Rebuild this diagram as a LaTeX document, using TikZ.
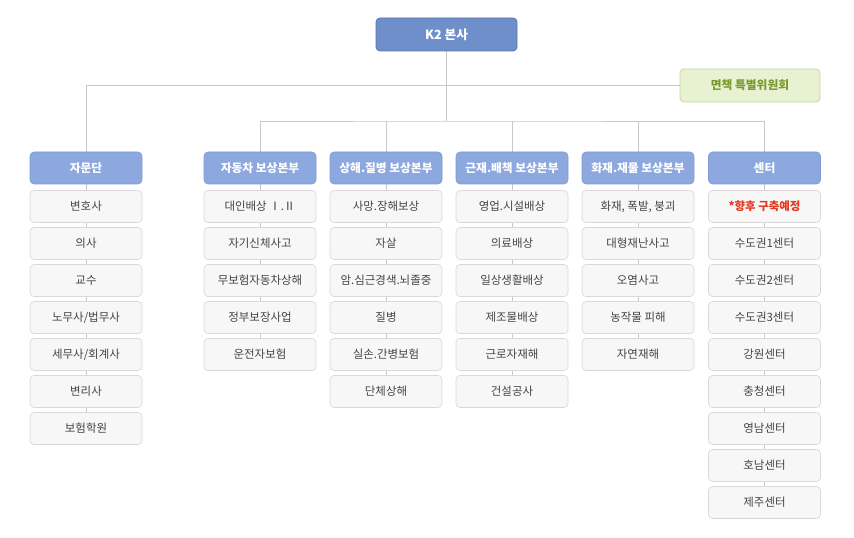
\documentclass[tikz,border=0pt]{standalone}
\usepackage{fontspec}
\setmainfont{Noto Sans CJK KR}
\usetikzlibrary{backgrounds}
\definecolor{topblue}{HTML}{6E8FC9}
\definecolor{topborder}{HTML}{5676B5}
\definecolor{headblue}{HTML}{8CA8DF}
\definecolor{headborder}{HTML}{7D9AD4}
\definecolor{greenfill}{HTML}{E9F1D3}
\definecolor{greenborder}{HTML}{C5D69A}
\definecolor{greentext}{HTML}{7A9A2E}
\definecolor{childfill}{HTML}{F7F7F7}
\definecolor{childborder}{HTML}{D9D9D9}
\definecolor{childtext}{HTML}{444444}
\definecolor{linegray}{HTML}{C8C8C8}
\definecolor{redtext}{HTML}{E2391E}
\tikzset{
  topbox/.style={draw=topborder, fill=topblue, rounded corners=3pt, line width=0.6pt,
    minimum width=105.75pt, minimum height=24.75pt, inner sep=0pt,
    text=white, font=\fontsize{9.5pt}{11pt}\selectfont\bfseries},
  greenbox/.style={draw=greenborder, fill=greenfill, rounded corners=3pt, line width=0.6pt,
    minimum width=105pt, minimum height=24.75pt, inner sep=0pt,
    text=greentext, font=\fontsize{8.8pt}{11pt}\selectfont\bfseries},
  headbox/.style={draw=headborder, fill=headblue, rounded corners=3pt, line width=0.4pt,
    minimum width=84pt, minimum height=24pt, inner sep=0pt,
    text=white, font=\fontsize{8.8pt}{11pt}\selectfont\bfseries},
  childbox/.style={draw=childborder, fill=childfill, rounded corners=3pt, line width=0.5pt,
    minimum width=84pt, minimum height=24pt, inner sep=0pt,
    text=childtext, font=\fontsize{8.6pt}{11pt}\selectfont},
  conn/.style={draw=linegray, line width=0.6pt},
}
\begin{document}
\begin{tikzpicture}[x=0.75pt, y=-0.75pt]
\useasboundingbox (0,0) rectangle (854,538);

% top
\node[topbox] (k2) at (446.5,34.5) {K2 본사};
\node[greenbox] (mj) at (750,85.5) {면책 특별위원회};

% headers
\node[headbox] (h1) at (86,168) {자문단};
\node[headbox] (h2) at (260,168) {자동차 보상본부};
\node[headbox] (h3) at (386,168) {상해.질병 보상본부};
\node[headbox] (h4) at (512,168) {근재.배책 보상본부};
\node[headbox] (h5) at (638,168) {화재.재물 보상본부};
\node[headbox] (h6) at (764.5,168) {센터};

% children
\foreach \t [count=\i] in {변호사,의사,교수,노무사/법무사,세무사/회계사,변리사,보험학원}
  \node[childbox] (a\i) at (86,{206.5+37*(\i-1)}) {\t};
\foreach \t [count=\i] in {대인배상 Ⅰ.Ⅱ,자기신체사고,무보험자동차상해,정부보장사업,운전자보험}
  \node[childbox] (b\i) at (260,{206.5+37*(\i-1)}) {\t};
\foreach \t [count=\i] in {사망.장해보상,자살,암.심근경색.뇌졸중,질병,실손.간병보험,단체상해}
  \node[childbox] (c\i) at (386,{206.5+37*(\i-1)}) {\t};
\foreach \t [count=\i] in {영업.시설배상,의료배상,일상생활배상,제조물배상,근로자재해,건설공사}
  \node[childbox] (d\i) at (512,{206.5+37*(\i-1)}) {\t};
\foreach \t [count=\i] in {{화재, 폭발, 붕괴},대형재난사고,오염사고,농작물 피해,자연재해}
  \node[childbox] (e\i) at (638,{206.5+37*(\i-1)}) {\t};
\node[childbox, text=redtext, font=\fontsize{8.6pt}{11pt}\selectfont\bfseries] (f1) at (764.5,206.5) {*향후 구축예정};
\foreach \t [count=\i from 2] in {수도권1센터,수도권2센터,수도권3센터,강원센터,충청센터,영남센터,호남센터,제주센터}
  \node[childbox] (f\i) at (764.5,{206.5+37*(\i-1)}) {\t};

\coordinate (j2) at (446.5,121);

\begin{scope}[on background layer]
  \fill[white] (0,0) rectangle (854,538);
  \draw[conn] (k2.south) -- (j2);
  \draw[conn] (h1.north) |- (mj.west);
  \draw[conn] (h2.north) |- (j2) -| (h6.north);
  \draw[conn] (h3.north) -- (h3.north |- j2);
  \draw[conn] (h4.north) -- (h4.north |- j2);
  \draw[conn] (h5.north) -- (h5.north |- j2);
  \draw[conn] (h1.south) -- (a7.center);
  \draw[conn] (h2.south) -- (b5.center);
  \draw[conn] (h3.south) -- (c6.center);
  \draw[conn] (h4.south) -- (d6.center);
  \draw[conn] (h5.south) -- (e5.center);
  \draw[conn] (h6.south) -- (f9.center);
\end{scope}
\end{tikzpicture}
\end{document}
